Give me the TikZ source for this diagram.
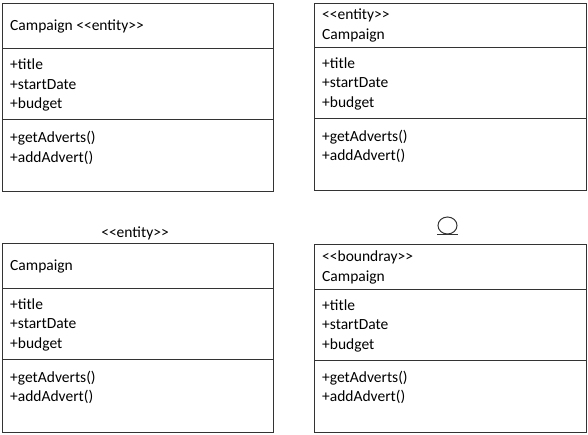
\documentclass[tikz,border=0pt]{standalone}
\usepackage{fontspec}
\newfontfamily\umlfont{Carlito}
\tikzset{
  classbox/.style={draw=black!80, line width=1pt},
  umltext/.style={anchor=base west, inner sep=0pt, align=left,
    font=\umlfont\fontsize{15.5}{19.3}\selectfont},
}

\begin{document}
\begin{tikzpicture}[x=1pt, y=-1pt]
  \useasboundingbox (0,0) rectangle (588,434);

  % name with stereotype after it
  \draw [classbox] (2,3) rectangle (273,191);
  \draw [classbox] (2,48) -- (273,48);
  \draw [classbox] (2,119) -- (273,119);
  \node [umltext] (nameA) at (10,30) {Campaign <<entity>>};
  \node [umltext] (attrA) at (10,108.5) {+title\\+startDate\\+budget};
  \node [umltext] (opsA) at (10,162) {+getAdverts()\\+addAdvert()};

  % stereotype above name
  \draw [classbox] (314,3) rectangle (586,190);
  \draw [classbox] (314,47) -- (586,47);
  \draw [classbox] (314,118) -- (586,118);
  \node [umltext] (nameB) at (322,39) {<<entity>>\\Campaign};
  \node [umltext] (attrB) at (322,107) {+title\\+startDate\\+budget};
  \node [umltext] (opsB) at (322,160.5) {+getAdverts()\\+addAdvert()};

  % stereotype outside the box
  \draw [classbox] (2,243) rectangle (273,432);
  \draw [classbox] (2,288) -- (273,288);
  \draw [classbox] (2,359) -- (273,359);
  \node [umltext, anchor=base] (stereoC) at (135,237) {<<entity>>};
  \node [umltext] (nameC) at (10,270) {Campaign};
  \node [umltext] (attrC) at (10,348) {+title\\+startDate\\+budget};
  \node [umltext] (opsC) at (10,401.5) {+getAdverts()\\+addAdvert()};

  % boundary icon
  \draw [classbox] (447.5,225.5) circle [x radius=9.5pt, y radius=8.5pt];
  \draw [classbox] (437,234.5) -- (458,234.5);
  \draw [classbox] (314,244) rectangle (586,432);
  \draw [classbox] (314,289) -- (586,289);
  \draw [classbox] (314,360) -- (586,360);
  \node [umltext] (nameD) at (322,281) {<<boundray>>\\Campaign};
  \node [umltext] (attrD) at (322,349) {+title\\+startDate\\+budget};
  \node [umltext] (opsD) at (322,401.5) {+getAdverts()\\+addAdvert()};
\end{tikzpicture}
\end{document}
